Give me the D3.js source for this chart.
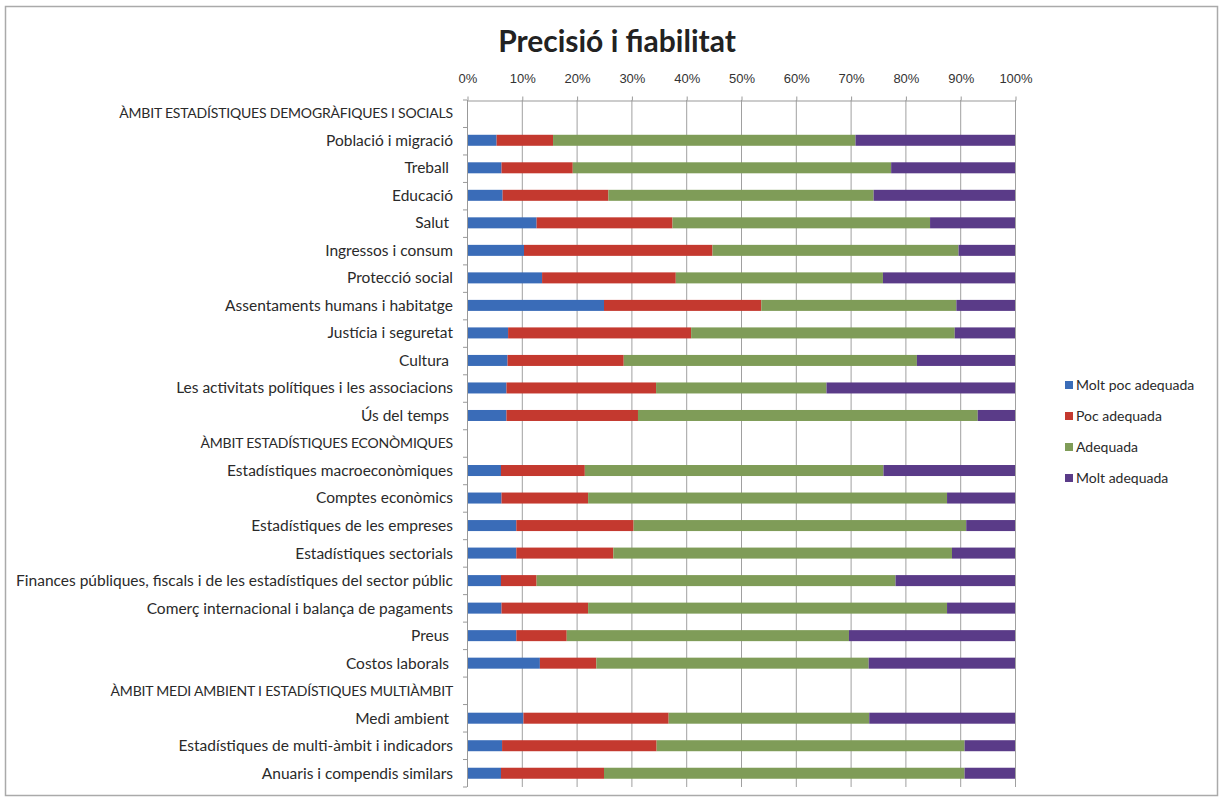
<!DOCTYPE html>
<html>
<head>
<meta charset="utf-8">
<script src="https://cdn.jsdelivr.net/npm/d3@7"></script>
<style>
  body { margin: 0; background: #fff; }
  svg { font-family: Lato, "Open Sans", sans-serif; }
  text { white-space: pre; }
</style>
</head>
<body>
<svg></svg>
<script>
// categories (header rows have no values)
const categories = [
    'ÀMBIT ESTADÍSTIQUES DEMOGRÀFIQUES I SOCIALS',
    'Població i migració',
    'Treball ',
    'Educació',
    'Salut ',
    'Ingressos i consum',
    'Protecció social',
    'Assentaments humans i habitatge',
    'Justícia i seguretat',
    'Cultura ',
    'Les activitats polítiques i les associacions',
    'Ús del temps ',
    'ÀMBIT ESTADÍSTIQUES ECONÒMIQUES',
    'Estadístiques macroeconòmiques',
    'Comptes econòmics',
    'Estadístiques de les empreses',
    'Estadístiques sectorials',
    'Finances públiques, fiscals i de les estadístiques del sector públic',
    'Comerç internacional i balança de pagaments',
    'Preus ',
    'Costos laborals ',
    'ÀMBIT MEDI AMBIENT I ESTADÍSTIQUES MULTIÀMBIT',
    'Medi ambient ',
    'Estadístiques de multi-àmbit i indicadors',
    'Anuaris i compendis similars'
];

const series = ['Molt poc adequada', 'Poc adequada', 'Adequada', 'Molt adequada'];

// percentages, null for header rows
const moltPoc  = [null, 5.4, 6.3, 6.5, 12.7, 10.4, 13.7, 25.0, 7.5, 7.4, 7.2, 7.2,
                  null, 6.2, 6.3, 9.0, 9.0, 6.2, 6.3, 9.0, 13.3, null, 10.3, 6.4, 6.2];
const poc      = [null, 10.3, 13.0, 19.3, 24.8, 34.4, 24.4, 28.7, 33.4, 21.2, 27.3, 24.0,
                  null, 15.3, 15.8, 21.4, 17.7, 6.5, 15.8, 9.2, 10.3, null, 26.5, 28.2, 18.8];
const adequada = [null, 55.2, 58.1, 48.4, 47.0, 44.9, 37.8, 35.6, 48.1, 53.5, 31.1, 62.0,
                  null, 54.5, 65.5, 60.7, 61.8, 65.5, 65.5, 51.5, 49.7, null, 36.6, 56.2, 65.8];
const moltAdeq = [null, 29.1, 22.6, 25.8, 15.5, 10.3, 24.1, 10.7, 11.0, 17.9, 34.4, 6.8,
                  null, 24.0, 12.4, 8.9, 11.5, 21.8, 12.4, 30.3, 26.7, null, 26.6, 9.2, 9.2];

const xTicks = [0, 10, 20, 30, 40, 50, 60, 70, 80, 90, 100];
const colors = ['#3a6cb8', '#c4392f', '#7f9c58', '#5a3b88'];

const width = 1223;
const height = 802;
const margin = {top: 100, left: 467, right: 207, bottom: 15};

let svg = d3.select('svg')
            .attr('width', width)
            .attr('height', height);

// outer frame
svg.append('rect')
    .attr('x', 5.5).attr('y', 6.5)
    .attr('width', 1212).attr('height', 789)
    .attr('fill', 'none')
    .attr('stroke', '#aaa')
    .attr('stroke-width', 1.5);

// table for stacking
let table = categories.map((c, i) => {
    let row = {category: c};
    row[series[0]] = moltPoc[i] || 0;
    row[series[1]] = poc[i] || 0;
    row[series[2]] = adequada[i] || 0;
    row[series[3]] = moltAdeq[i] || 0;
    return row;
});

let xScale = d3.scaleLinear()
                .domain([0, 100])
                .range([margin.left, width - margin.right - 1]);

let yScale = d3.scaleBand()
                .domain(categories)
                .range([margin.top - 1, height - margin.bottom])
                .paddingInner(0.6)
                .paddingOuter(0.3);

//Gridlines + top axis
let xAxis = d3.axisTop(xScale)
                .tickValues(xTicks)
                .tickFormat(d => d + '%')
                .tickSize(4)
                .tickSizeOuter(0);

svg.append('g')
    .attr('class', 'grid')
    .selectAll('line')
    .data(xTicks)
    .enter()
        .append('line')
        .attr('x1', d => xScale(d) + 0.5)
        .attr('x2', d => xScale(d) + 0.5)
        .attr('y1', margin.top)
        .attr('y2', height - margin.bottom)
        .attr('stroke', '#a0a0a0')
        .attr('stroke-width', 1);

let gx = svg.append('g')
    .attr('transform', `translate(0.5, ${margin.top + 0.5})`)
    .call(xAxis);
gx.select('.domain').attr('stroke', '#999');
gx.selectAll('.tick line').attr('stroke', '#999');
gx.selectAll('.tick text')
    .attr('font-size', 13)
    .attr('fill', '#333')
    .attr('dy', '-0.8em');

//Stacked bars
let stack = d3.stack().keys(series)(table);

svg.append('g')
    .selectAll('g')
    .data(stack)
    .enter()
        .append('g')
        .attr('fill', (d, i) => colors[i])
    .selectAll('rect')
    .data(d => d.filter(p => p[1] > p[0]))
    .enter()
        .append('rect')
        .attr('x', d => xScale(d[0]))
        .attr('width', d => xScale(d[1]) - xScale(d[0]))
        .attr('y', d => yScale(d.data.category))
        .attr('height', yScale.bandwidth());

//Left axis
let yAxisG = svg.append('g');
yAxisG.append('line')
    .attr('x1', margin.left + 0.5).attr('x2', margin.left + 0.5)
    .attr('y1', margin.top).attr('y2', height - margin.bottom)
    .attr('stroke', '#999');

yAxisG.selectAll('.ytick')
    .data(d3.range(categories.length + 1))
    .enter()
        .append('line')
        .attr('x1', margin.left - 4)
        .attr('x2', margin.left)
        .attr('y1', i => margin.top + i * (height - margin.bottom - margin.top) / categories.length)
        .attr('y2', i => margin.top + i * (height - margin.bottom - margin.top) / categories.length)
        .attr('stroke', '#999');

let isHeader = d => d.startsWith('ÀMBIT');

yAxisG.selectAll('text')
    .data(categories)
    .enter()
        .append('text')
        .text(d => d)
        .attr('x', margin.left - 14)
        .attr('y', d => yScale(d) + yScale.bandwidth() / 2)
        .attr('dy', '0.35em')
        .attr('text-anchor', 'end')
        .attr('font-size', d => isHeader(d) ? 14 : 15.5)
        .attr('fill', '#2a2a2a')
        .attr('letter-spacing', d => isHeader(d) ? -0.2 : 0);

//Title
svg.append('text')
    .text('Precisió i fiabilitat')
    .attr('x', 617)
    .attr('y', 52)
    .attr('text-anchor', 'middle')
    .attr('font-size', 30)
    .attr('font-weight', 'bold')
    .attr('fill', '#222');

//Legend
let legend = svg.append('g')
    .selectAll('g')
    .data(series)
    .enter()
        .append('g')
        .attr('transform', (d, i) => `translate(1065, ${385 + i * 31})`);

legend.append('rect')
    .attr('x', 0).attr('y', -4)
    .attr('width', 8).attr('height', 8)
    .attr('fill', (d, i) => colors[i]);

legend.append('text')
    .text(d => d)
    .attr('x', 11)
    .attr('dy', '0.35em')
    .attr('font-size', 14)
    .attr('fill', '#2a2a2a');
</script>
</body>
</html>
